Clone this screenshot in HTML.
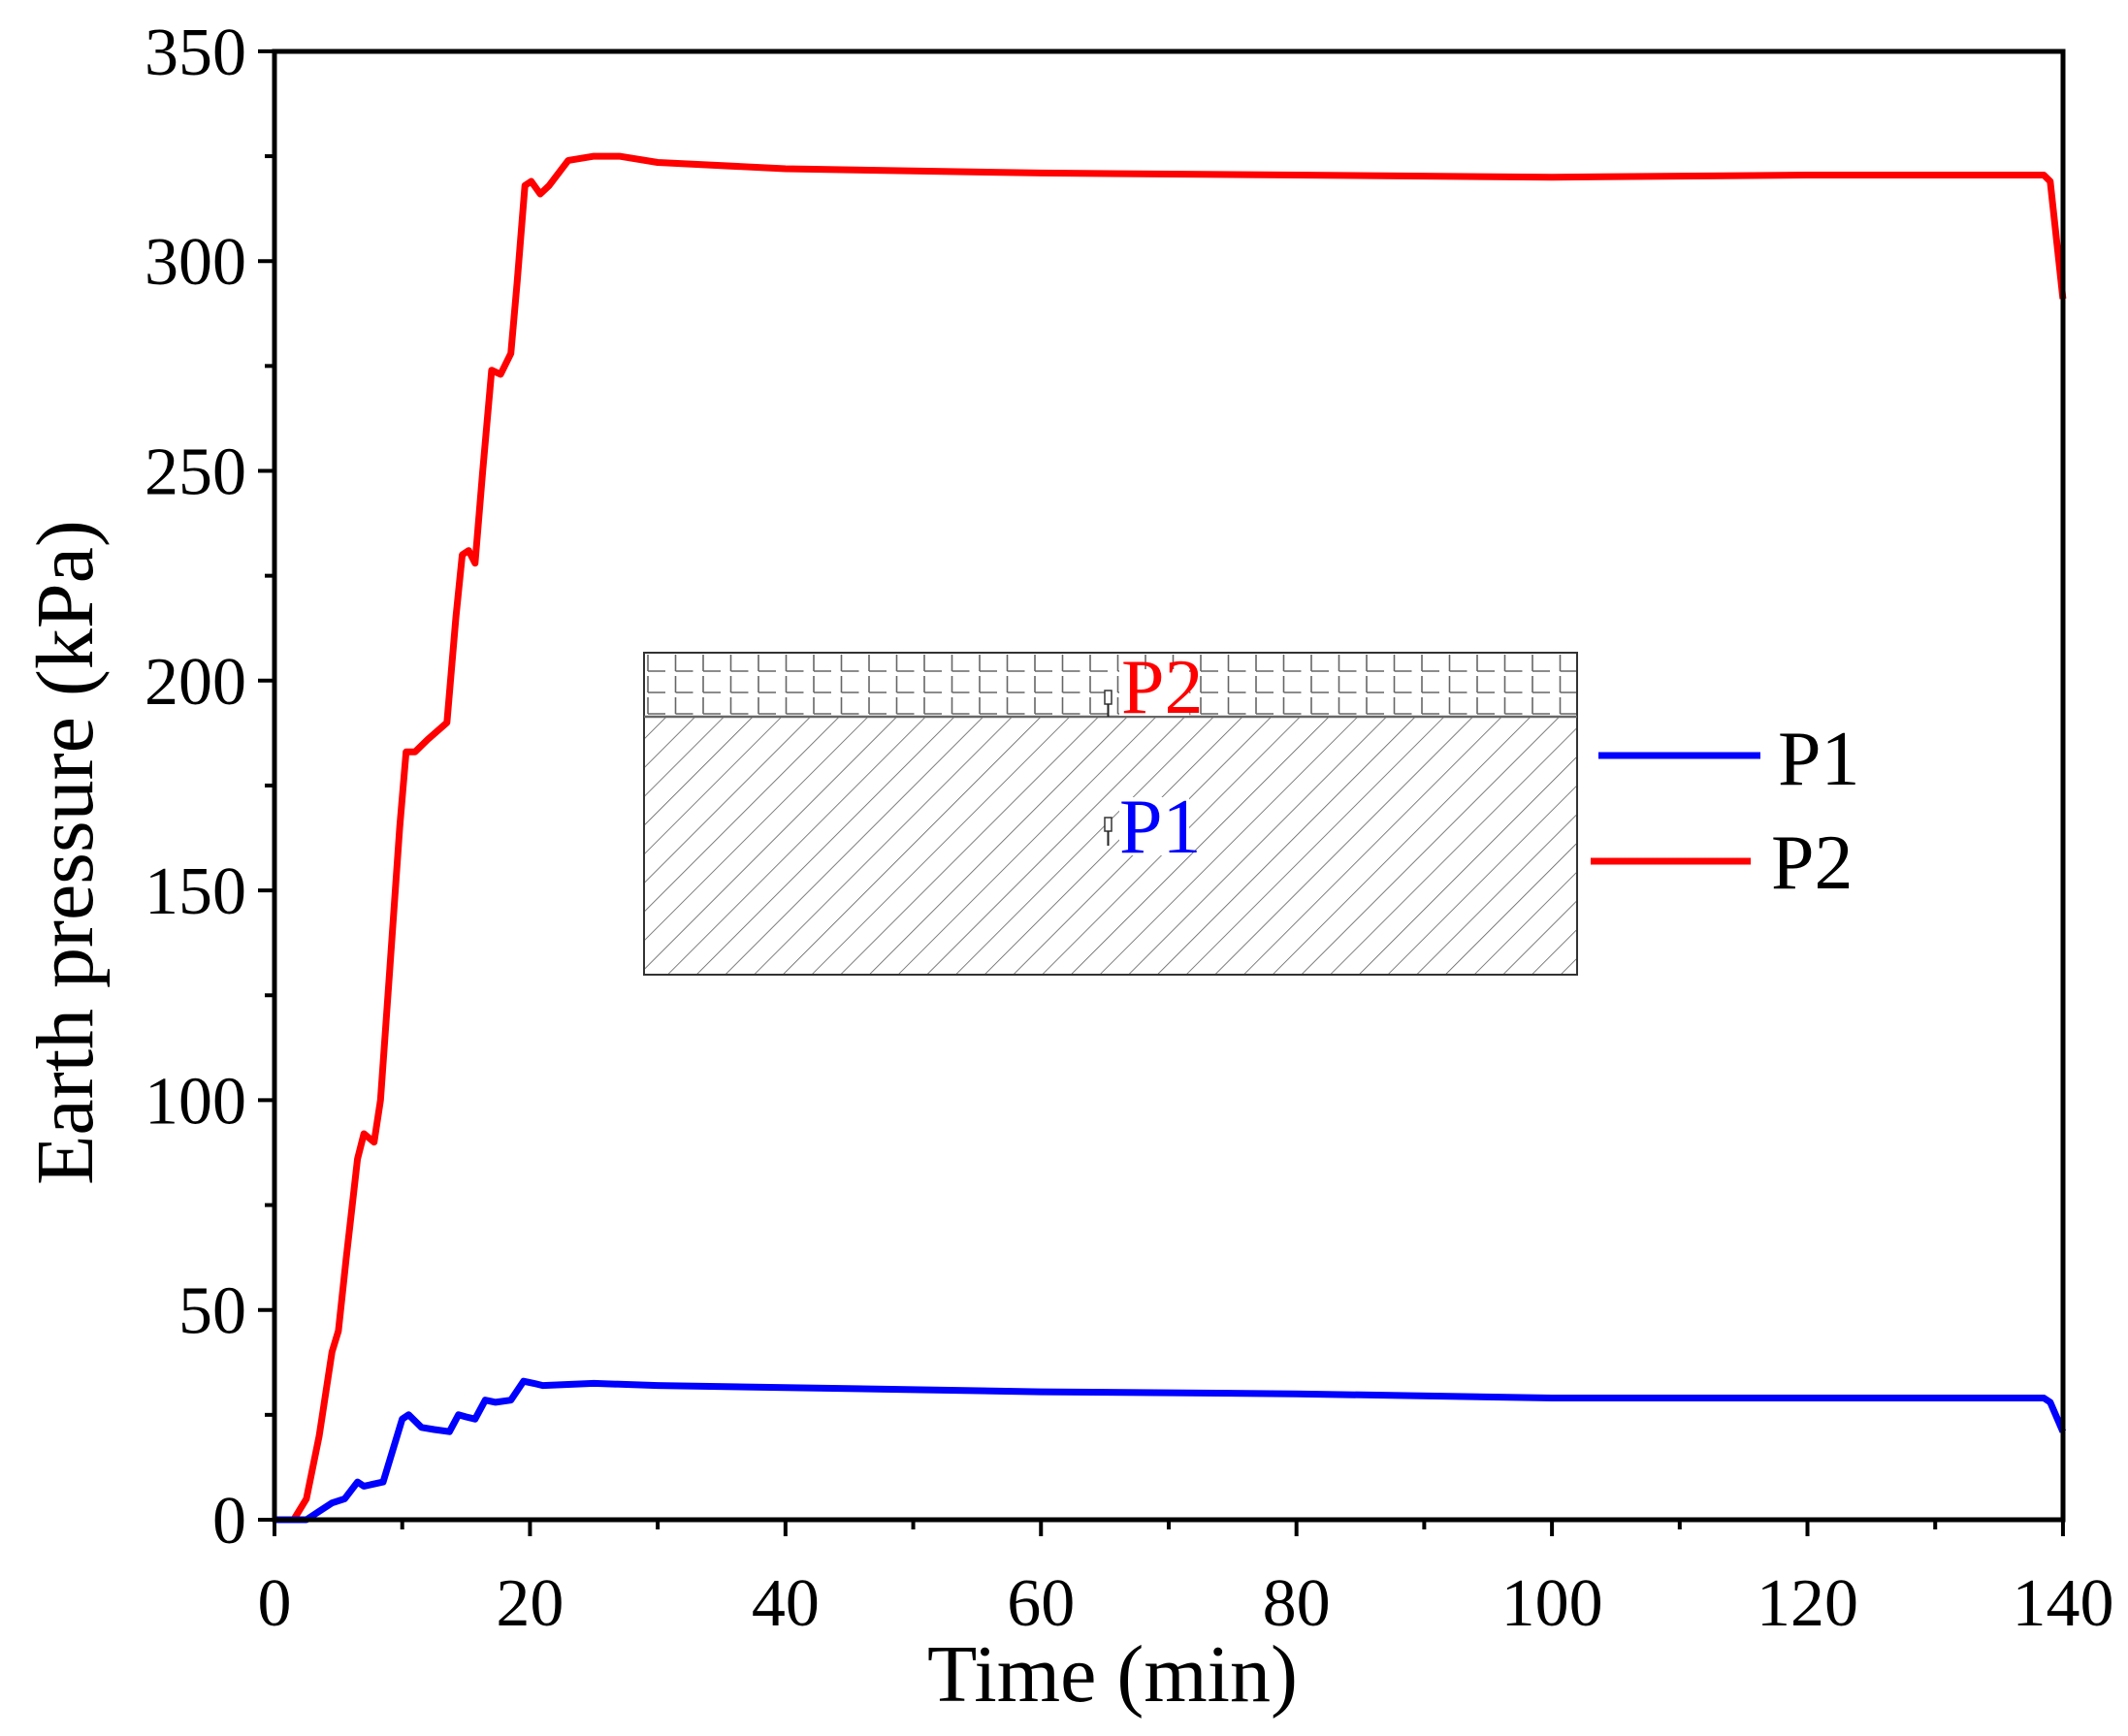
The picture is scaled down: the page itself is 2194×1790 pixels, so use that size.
<!DOCTYPE html>
<html><head><meta charset="utf-8"><style>
html,body{margin:0;padding:0;background:#fff}
svg text{font-family:"Liberation Serif",serif}
</style></head><body>
<svg id="s" width="2194" height="1785" viewBox="0 0 2194 1785" xmlns="http://www.w3.org/2000/svg">
<defs>
<pattern id="hatch" patternUnits="userSpaceOnUse" width="21" height="21" patternTransform="rotate(45)">
<line x1="0" y1="0" x2="0" y2="21" stroke="#555" stroke-width="1.5"/>
</pattern>
<pattern id="brick" patternUnits="userSpaceOnUse" x="664" y="673" width="28.5" height="22">
<line x1="4" y1="2" x2="4" y2="19" stroke="#666" stroke-width="1.6"/>
<line x1="4" y1="19" x2="22" y2="19" stroke="#666" stroke-width="1.6"/>
</pattern>
</defs>
<rect x="664" y="739" width="962" height="266" fill="url(#hatch)"/>
<rect x="664" y="673" width="962" height="66" fill="url(#brick)"/>
<rect x="664" y="673" width="962" height="332" fill="none" stroke="#333" stroke-width="2"/>
<line x1="664" y1="739" x2="1626" y2="739" stroke="#666" stroke-width="2.5"/>
<rect x="1139" y="712" width="7" height="14" fill="#fff" stroke="#333" stroke-width="1.5"/>
<line x1="1142.5" y1="726" x2="1142.5" y2="739" stroke="#222" stroke-width="2"/>
<rect x="1139" y="843" width="7" height="14" fill="#fff" stroke="#333" stroke-width="1.5"/>
<line x1="1142.5" y1="857" x2="1142.5" y2="872" stroke="#222" stroke-width="2"/>
<rect x="1154" y="690" width="72" height="48" fill="#fff"/>
<rect x="1154" y="822" width="72" height="60" fill="#fff"/>
<text x="1156" y="735" font-size="80" fill="#f00">P2</text>
<text x="1154" y="879" font-size="80" fill="#00f">P1</text>
<line x1="1648" y1="779" x2="1815" y2="779" stroke="#00f" stroke-width="7"/>
<text x="1833" y="809" font-size="80">P1</text>
<line x1="1640" y1="888" x2="1805" y2="888" stroke="#f00" stroke-width="7"/>
<text x="1826" y="916" font-size="80">P2</text>
<g id="series"></g>
<rect x="283" y="53" width="1844" height="1514" fill="none" stroke="#000" stroke-width="5"/>
<g id="ticks" stroke="#000" stroke-width="4"></g>
<g id="labels" font-size="70"></g>
<text x="1147" y="1754" font-size="84" text-anchor="middle">Time (min)</text>
<text transform="translate(95,879) rotate(-90)" font-size="84" text-anchor="middle">Earth pressure (kPa)</text>
</svg>
<script>
var X=function(t){return 283+t*13.171},Y=function(v){return 1567-v*4.326};
var NS="http://www.w3.org/2000/svg";
var tk=document.getElementById('ticks'),lb=document.getElementById('labels');
function ln(x1,y1,x2,y2){var l=document.createElementNS(NS,'line');l.setAttribute('x1',x1);l.setAttribute('y1',y1);l.setAttribute('x2',x2);l.setAttribute('y2',y2);tk.appendChild(l);}
function tx(x,y,s,a){var t=document.createElementNS(NS,'text');t.setAttribute('x',x);t.setAttribute('y',y);t.setAttribute('text-anchor',a);t.textContent=s;lb.appendChild(t);}
for(var v=0;v<=350;v+=25){var y=Y(v);ln(283,y,v%50==0?266:273,y);if(v%50==0)tx(254,y+24,v,'end');}
for(var t=0;t<=140;t+=10){var x=X(t);ln(x,1567,x,t%20==0?1584:1577);if(t%20==0)tx(x,1676,t,'middle');}
var red=[[0,0],[1.5,0],[2.5,5],[3.5,20],[4.5,40],[5,45],[5.6,62],[6.5,86],[7,92],[7.8,90],[8.3,100],[9,130],[9.8,165],[10.3,183],[11,183],[12,186],[13.5,190],[14.2,215],[14.7,230],[15.2,231],[15.7,228],[16.3,250],[17,274],[17.7,273],[18.5,278],[19,295],[19.6,318],[20.1,319],[20.8,316],[21.5,318],[23,324],[25,325],[27,325],[30,323.5],[40,322],[60,321],[80,320.5],[100,320],[120,320.5],[138.5,320.5],[139,319],[140,291]];
var blue=[[0,0],[2.5,0],[3.5,2],[4.5,4],[5.5,5],[6.5,9],[7,8],[8.5,9],[9.2,16],[10,24],[10.5,25],[11.5,22],[12.5,21.5],[13.7,21],[14.4,25],[15,24.5],[15.7,24],[16.5,28.5],[17.3,28],[18.5,28.5],[19.5,33],[20.3,32.5],[21,32],[25,32.5],[30,32],[40,31.5],[60,30.5],[80,30],[100,29],[120,29],[138.5,29],[139,28],[140,21]];
function path(d,c){var p=document.createElementNS(NS,'polyline');p.setAttribute('points',d.map(function(a){return X(a[0]).toFixed(1)+','+Y(a[1]).toFixed(1)}).join(' '));p.setAttribute('fill','none');p.setAttribute('stroke',c);p.setAttribute('stroke-width','7');p.setAttribute('stroke-linejoin','round');document.getElementById('series').appendChild(p);}
path(red,'#f00');path(blue,'#00f');
</script>
</body></html>
